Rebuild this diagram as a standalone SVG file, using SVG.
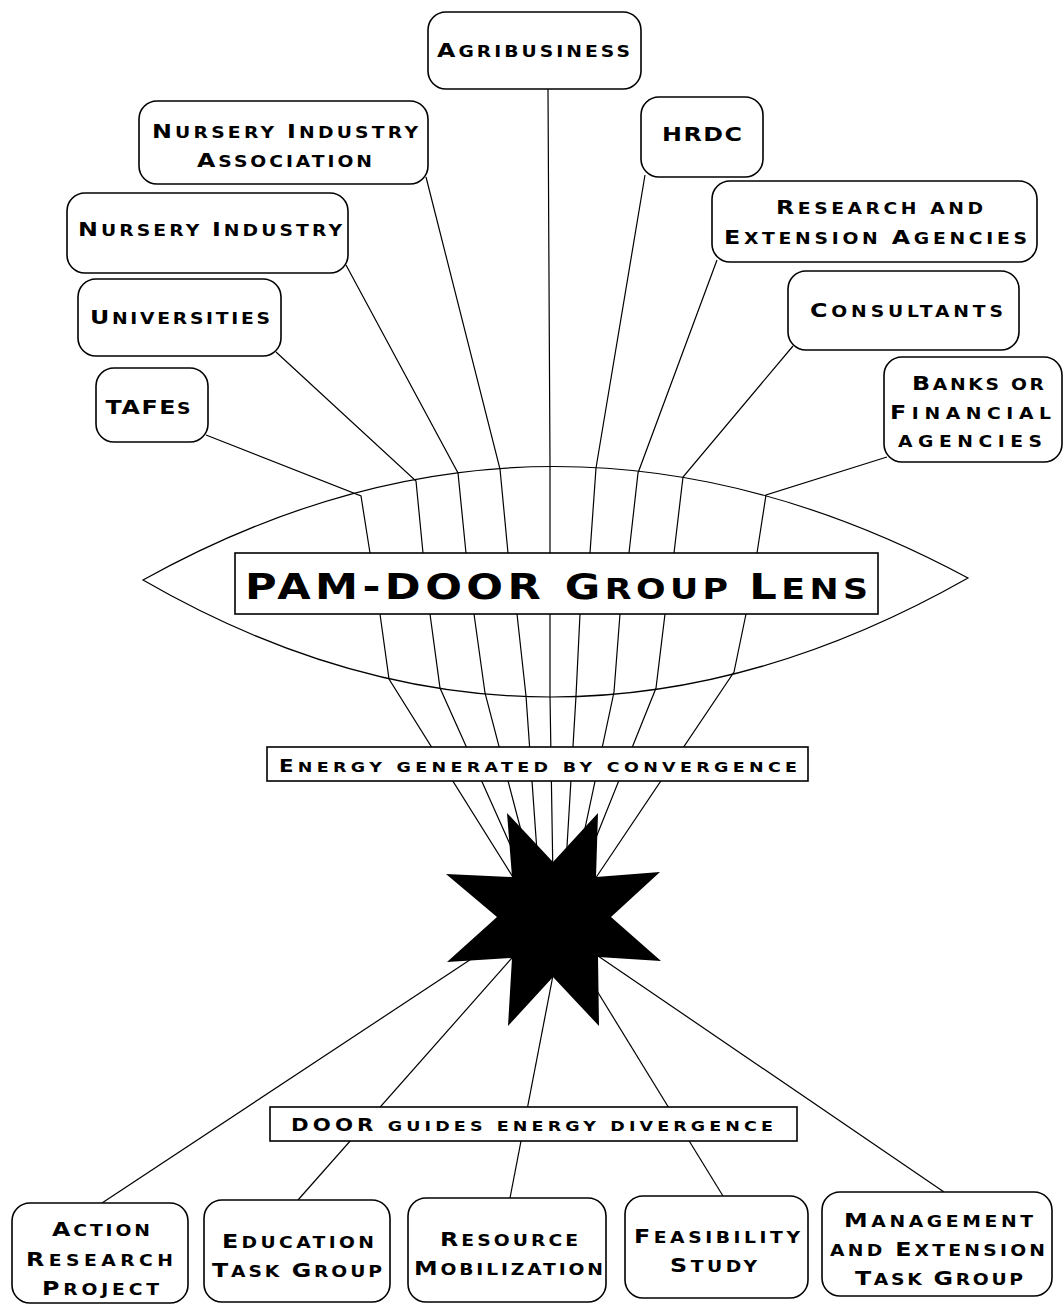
<svg xmlns="http://www.w3.org/2000/svg" width="1064" height="1304" viewBox="0 0 1064 1304">
<style>
.box{fill:#fff;stroke:#000;stroke-width:1.6}
.ln{fill:none;stroke:#000;stroke-width:1.2}
.t{font-family:'DejaVu Sans','Liberation Sans',sans-serif;font-weight:bold;fill:#000;text-anchor:middle}
.c{font-size:19px}.s{font-size:15px}
.C{font-size:36px}.S{font-size:29px}
.m{font-size:17px}.n{font-size:14px}
</style>
<rect width="1064" height="1304" fill="#fff"/>
<g id="lens"><path class="ln" d="M143,580 Q550,354 968,578 Q550,815 143,580 Z"/></g>
<g id="connectors">
<polyline class="ln" points="206,435 361,496 370,553 380,614 389,679 516,882"/>
<polyline class="ln" points="276,352 416,481 423,553 430,614 440,688 526,880"/>
<polyline class="ln" points="346,265 458,473 466,553 474,614 485,693 534,880"/>
<polyline class="ln" points="426,177 500,469 508,553 517,614 526,696 539,880"/>
<polyline class="ln" points="548,89 550,467 550,553 550,614 550,696 553,880"/>
<polyline class="ln" points="645,175 596,468 590,553 580,614 576,696 565,880"/>
<polyline class="ln" points="717,260 638,473 629,553 620,614 614,692 574,880"/>
<polyline class="ln" points="793,346 683,477 674,553 665,614 656,688 579,880"/>
<polyline class="ln" points="887,457 766,495 757,553 746,614 734,672 593,882"/>
<line class="ln" x1="500" y1="940" x2="102" y2="1203"/>
<line class="ln" x1="519" y1="950" x2="298" y2="1200"/>
<line class="ln" x1="555" y1="965" x2="510" y2="1198"/>
<line class="ln" x1="578" y1="960" x2="723" y2="1196"/>
<line class="ln" x1="579" y1="943" x2="944" y2="1192"/>
</g>
<g id="star"><polygon fill="#000" points="507,813 553,862 598,813 596,877 660,872 611,917 661,961 598,957 599,1026 553,977 508,1026 512,958 447,962 497,917 446,874 512,877"/></g>
<g id="agribusiness"><rect class="box" x="428" y="12" width="213" height="77" rx="18"/>
<text class="t" transform="translate(533.5,57) scale(1.25,1)" textLength="154.4" lengthAdjust="spacing"><tspan class="c">A</tspan><tspan class="s">GRIBUSINESS</tspan></text></g>
<g id="nia"><rect class="box" x="139" y="101" width="289" height="83" rx="18"/>
<text class="t" transform="translate(285,138) scale(1.25,1)" textLength="212.8" lengthAdjust="spacing"><tspan class="c">N</tspan><tspan class="s">URSERY </tspan><tspan class="c">I</tspan><tspan class="s">NDUSTRY</tspan></text>
<text class="t" transform="translate(284.5,167) scale(1.25,1)" textLength="140" lengthAdjust="spacing"><tspan class="c">A</tspan><tspan class="s">SSOCIATION</tspan></text></g>
<g id="nursery"><rect class="box" x="67" y="193" width="281" height="80" rx="18"/>
<text class="t" transform="translate(210,236) scale(1.25,1)" textLength="211.2" lengthAdjust="spacing"><tspan class="c">N</tspan><tspan class="s">URSERY </tspan><tspan class="c">I</tspan><tspan class="s">NDUSTRY</tspan></text></g>
<g id="universities"><rect class="box" x="78" y="279" width="203" height="77" rx="18"/>
<text class="t" transform="translate(180,324) scale(1.25,1)" textLength="144" lengthAdjust="spacing"><tspan class="c">U</tspan><tspan class="s">NIVERSITIES</tspan></text></g>
<g id="tafes"><rect class="box" x="96" y="368" width="112" height="74" rx="18"/>
<text class="t" transform="translate(148,414) scale(1.25,1)" textLength="68" lengthAdjust="spacing"><tspan class="c">TAFE</tspan><tspan class="s">S</tspan></text></g>
<g id="hrdc"><rect class="box" x="641" y="97" width="122" height="80" rx="18"/>
<text class="t" transform="translate(702,141) scale(1.25,1)" textLength="64" lengthAdjust="spacing"><tspan class="c">HRDC</tspan></text></g>
<g id="research"><rect class="box" x="712" y="181" width="325" height="81" rx="18"/>
<text class="t" transform="translate(879.5,214) scale(1.25,1)" textLength="165.6" lengthAdjust="spacing"><tspan class="c">R</tspan><tspan class="s">ESEARCH AND</tspan></text>
<text class="t" transform="translate(875.5,244) scale(1.25,1)" textLength="242.4" lengthAdjust="spacing"><tspan class="c">E</tspan><tspan class="s">XTENSION </tspan><tspan class="c">A</tspan><tspan class="s">GENCIES</tspan></text></g>
<g id="consultants"><rect class="box" x="788" y="271" width="231" height="79" rx="18"/>
<text class="t" transform="translate(906.5,317) scale(1.25,1)" textLength="154.4" lengthAdjust="spacing"><tspan class="c">C</tspan><tspan class="s">ONSULTANTS</tspan></text></g>
<g id="banks"><rect class="box" x="884" y="357" width="178" height="105" rx="18"/>
<text class="t" transform="translate(978,390) scale(1.25,1)" textLength="105.6" lengthAdjust="spacing"><tspan class="c">B</tspan><tspan class="s">ANKS OR</tspan></text>
<text class="t" transform="translate(970.5,419) scale(1.25,1)" textLength="128.8" lengthAdjust="spacing"><tspan class="c">F</tspan><tspan class="s">INANCIAL</tspan></text>
<text class="t" transform="translate(970,447) scale(1.25,1)" textLength="115.2" lengthAdjust="spacing"><tspan class="s">AGENCIES</tspan></text></g>
<g id="pamdoor"><rect class="box" x="235" y="553" width="643" height="61"/>
<text class="t" transform="translate(556.5,599) scale(1.2,1)" textLength="519.2" lengthAdjust="spacing"><tspan class="C">PAM-DOOR G</tspan><tspan class="S">ROUP </tspan><tspan class="C">L</tspan><tspan class="S">ENS</tspan></text></g>
<g id="energy"><rect class="box" x="267" y="747" width="541" height="34"/>
<text class="t" transform="translate(538,772) scale(1.25,1)" textLength="414.4" lengthAdjust="spacing"><tspan class="m">E</tspan><tspan class="n">NERGY GENERATED BY CONVERGENCE</tspan></text></g>
<g id="doorguides"><rect class="box" x="270" y="1107" width="527" height="34"/>
<text class="t" transform="translate(532,1131) scale(1.25,1)" textLength="385.6" lengthAdjust="spacing"><tspan class="m">DOOR</tspan><tspan class="n"> GUIDES ENERGY DIVERGENCE</tspan></text></g>
<g id="action"><rect class="box" x="12" y="1203" width="176" height="100" rx="18"/>
<text class="t" transform="translate(101,1236) scale(1.25,1)" textLength="78.4" lengthAdjust="spacing"><tspan class="c">A</tspan><tspan class="s">CTION</tspan></text>
<text class="t" transform="translate(99.5,1266) scale(1.25,1)" textLength="117.6" lengthAdjust="spacing"><tspan class="c">R</tspan><tspan class="s">ESEARCH</tspan></text>
<text class="t" transform="translate(100.5,1295) scale(1.25,1)" textLength="93.6" lengthAdjust="spacing"><tspan class="c">P</tspan><tspan class="s">ROJECT</tspan></text></g>
<g id="education"><rect class="box" x="204" y="1200" width="186" height="102" rx="18"/>
<text class="t" transform="translate(298,1248) scale(1.25,1)" textLength="121.6" lengthAdjust="spacing"><tspan class="c">E</tspan><tspan class="s">DUCATION</tspan></text>
<text class="t" transform="translate(297,1277) scale(1.25,1)" textLength="136" lengthAdjust="spacing"><tspan class="c">T</tspan><tspan class="s">ASK </tspan><tspan class="c">G</tspan><tspan class="s">ROUP</tspan></text></g>
<g id="resource"><rect class="box" x="408" y="1198" width="198" height="104" rx="18"/>
<text class="t" transform="translate(509,1246) scale(1.25,1)" textLength="110.4" lengthAdjust="spacing"><tspan class="c">R</tspan><tspan class="s">ESOURCE</tspan></text>
<text class="t" transform="translate(508.5,1275) scale(1.25,1)" textLength="151.2" lengthAdjust="spacing"><tspan class="c">M</tspan><tspan class="s">OBILIZATION</tspan></text></g>
<g id="feasibility"><rect class="box" x="625" y="1196" width="183" height="102" rx="18"/>
<text class="t" transform="translate(717,1243) scale(1.25,1)" textLength="132.8" lengthAdjust="spacing"><tspan class="c">F</tspan><tspan class="s">EASIBILITY</tspan></text>
<text class="t" transform="translate(713.5,1272) scale(1.25,1)" textLength="69.6" lengthAdjust="spacing"><tspan class="c">S</tspan><tspan class="s">TUDY</tspan></text></g>
<g id="management"><rect class="box" x="822" y="1192" width="230" height="104" rx="18"/>
<text class="t" transform="translate(938.5,1227) scale(1.25,1)" textLength="151.2" lengthAdjust="spacing"><tspan class="c">M</tspan><tspan class="s">ANAGEMENT</tspan></text>
<text class="t" transform="translate(937.5,1256) scale(1.25,1)" textLength="172" lengthAdjust="spacing"><tspan class="s">AND </tspan><tspan class="c">E</tspan><tspan class="s">XTENSION</tspan></text>
<text class="t" transform="translate(939,1285) scale(1.25,1)" textLength="134.4" lengthAdjust="spacing"><tspan class="c">T</tspan><tspan class="s">ASK </tspan><tspan class="c">G</tspan><tspan class="s">ROUP</tspan></text></g>
</svg>
